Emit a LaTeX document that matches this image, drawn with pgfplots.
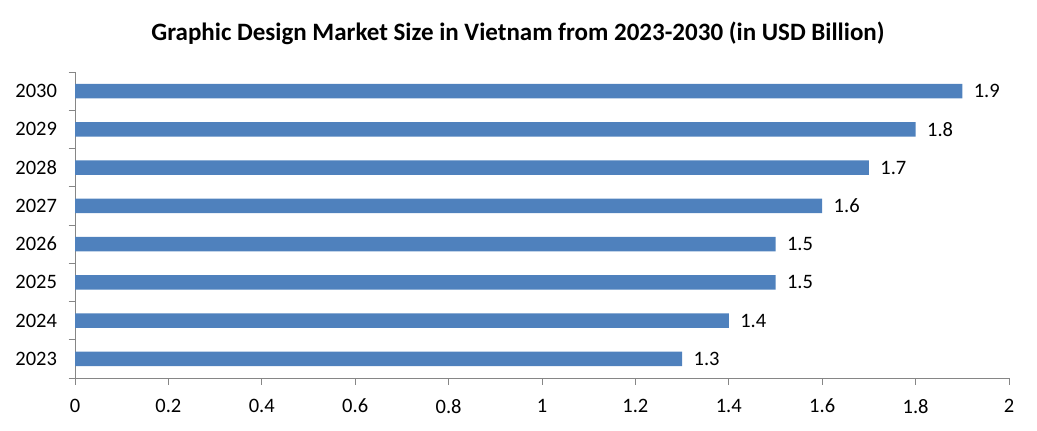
\documentclass[border=0pt]{standalone}
\usepackage{pgfplots}
\pgfplotsset{compat=1.18}
\usepackage{fontspec}
\setmainfont{Carlito}
\definecolor{barblue}{HTML}{4F81BD}
\definecolor{axgray}{HTML}{868686}
\begin{document}
\begin{tikzpicture}[x=1bp,y=1bp]
\path[use as bounding box] (0,0) rectangle (1037,430);
\node[font=\fontsize{25bp}{29bp}\selectfont\bfseries] at (518,397) {Graphic Design Market Size in Vietnam from 2023-2030 (in USD Billion)};
\begin{axis}[
  at={(75bp,52bp)}, anchor=south west,
  scale only axis, width=934bp, height=306bp,
  xbar, bar width=14.5bp,
  xmin=0, xmax=2,
  ymin=-0.5, ymax=7.5,
  xtick={0,0.2,...,2.01},
  xticklabels={0,0.2,0.4,0.6,0.8,1,1.2,1.4,1.6,1.8,2},
  ytick={0,...,7},
  yticklabels={2023,2024,2025,2026,2027,2028,2029,2030},
  minor ytick={-0.5,0.5,...,7.6},
  axis x line*=bottom, axis y line*=left,
  axis line style={axgray, line width=1pt},
  tick align=outside,
  major tick length=6.5bp, minor tick length=6.5bp,
  major tick style={axgray, line width=1pt},
  minor tick style={axgray, line width=1pt},
  every major y tick/.append style={draw=none},
  ticklabel style={font=\fontsize{20.5bp}{24bp}\selectfont, text=black},
  /pgf/number format/assume math mode=true,
  xticklabel style={yshift=-11bp},
  yticklabel style={xshift=-8bp},
  nodes near coords,
  nodes near coords style={font=\fontsize{20.5bp}{24bp}\selectfont, text=black, anchor=west, xshift=8bp},
  point meta=explicit symbolic,
]
\addplot[fill=barblue, draw=none] coordinates {
(1.3,0) [1.3]
(1.4,1) [1.4]
(1.5,2) [1.5]
(1.5,3) [1.5]
(1.6,4) [1.6]
(1.7,5) [1.7]
(1.8,6) [1.8]
(1.9,7) [1.9]
};
\end{axis}
\end{tikzpicture}
\end{document}
